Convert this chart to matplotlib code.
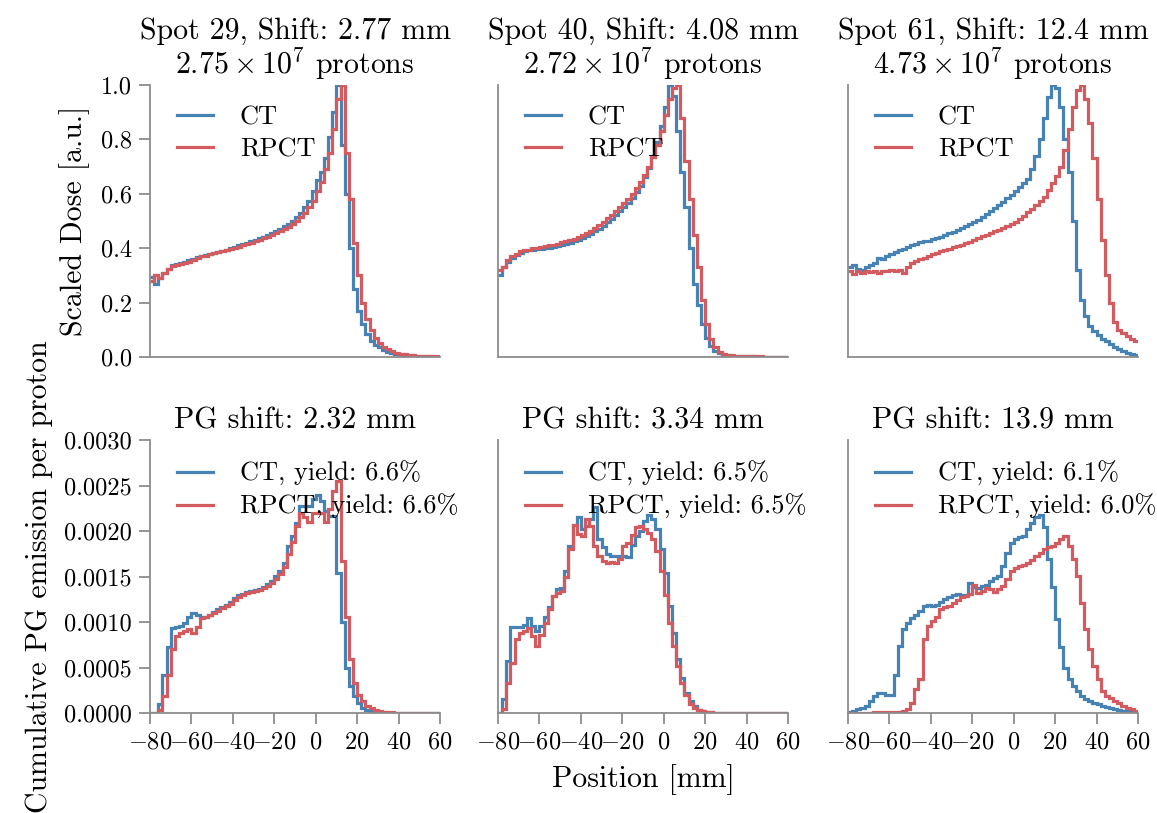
import numpy as np
import matplotlib
matplotlib.use("Agg")
import matplotlib.pyplot as plt

plt.rcParams['font.family'] = ['cmr10', 'DejaVu Serif']
plt.rcParams['mathtext.fontset'] = 'cm'
plt.rcParams['axes.formatter.use_mathtext'] = True
plt.rcParams['axes.unicode_minus'] = True

# bin edges (mm)
edges = np.arange(-80, 62, 2)

# ---- Dose (top row) ----
dose_titles = ["Spot 29, Shift: 2.77 mm\n$2.75 \\times 10^{7}$ protons",
               "Spot 40, Shift: 4.08 mm\n$2.72 \\times 10^{7}$ protons",
               "Spot 61, Shift: 12.4 mm\n$4.73 \\times 10^{7}$ protons"]
dose_ct_29 = [0.295, 0.27, 0.29, 0.307, 0.325, 0.337, 0.343, 0.347, 0.35, 0.356,
              0.362, 0.368, 0.372, 0.376, 0.38, 0.383, 0.386, 0.39, 0.395, 0.399,
              0.405, 0.41, 0.414, 0.42, 0.425, 0.43, 0.437, 0.443, 0.45, 0.457,
              0.465, 0.472, 0.48, 0.49, 0.5, 0.515, 0.53, 0.55, 0.575, 0.61,
              0.65, 0.68, 0.73, 0.81, 0.9, 1.0, 0.78, 0.6, 0.4, 0.25,
              0.17, 0.12, 0.085, 0.06, 0.045, 0.035, 0.025, 0.018, 0.014, 0.011,
              0.008, 0.006, 0.005, 0.004, 0.003, 0.003, 0.002, 0.002, 0.001, 0.001]
dose_rp_29 = [0.28, 0.3, 0.29, 0.31, 0.325, 0.335, 0.34, 0.343, 0.347, 0.35,
              0.358, 0.365, 0.37, 0.373, 0.378, 0.382, 0.385, 0.39, 0.393, 0.397,
              0.402, 0.406, 0.41, 0.415, 0.42, 0.425, 0.43, 0.436, 0.442, 0.449,
              0.455, 0.462, 0.47, 0.478, 0.488, 0.5, 0.513, 0.53, 0.55, 0.575,
              0.61, 0.645, 0.69, 0.75, 0.84, 0.95, 1.0, 0.75, 0.58, 0.42,
              0.3, 0.2, 0.14, 0.1, 0.07, 0.05, 0.038, 0.028, 0.021, 0.016,
              0.012, 0.01, 0.008, 0.006, 0.005, 0.004, 0.003, 0.003, 0.002, 0.002]
dose_ct_40 = [0.3, 0.33, 0.35, 0.365, 0.375, 0.382, 0.388, 0.392, 0.394, 0.396,
              0.398, 0.4, 0.402, 0.405, 0.408, 0.412, 0.416, 0.42, 0.425, 0.43,
              0.437, 0.445, 0.453, 0.462, 0.472, 0.483, 0.495, 0.508, 0.522, 0.537,
              0.552, 0.568, 0.585, 0.605, 0.63, 0.66, 0.695, 0.74, 0.79, 0.85,
              0.92, 1.0, 0.96, 0.83, 0.68, 0.55, 0.4, 0.27, 0.19, 0.12,
              0.07, 0.04, 0.022, 0.013, 0.008, 0.006, 0.004, 0.003, 0.003, 0.002,
              0.002, 0.002, 0.001, 0.001, 0.001, 0.001, 0.001, 0.001, 0.001, 0.001]
dose_rp_40 = [0.32, 0.33, 0.355, 0.37, 0.38, 0.388, 0.392, 0.395, 0.4, 0.402,
              0.405, 0.407, 0.41, 0.413, 0.417, 0.421, 0.425, 0.43, 0.435, 0.441,
              0.448, 0.456, 0.465, 0.475, 0.486, 0.497, 0.51, 0.522, 0.535, 0.55,
              0.565, 0.582, 0.6, 0.62, 0.645, 0.67, 0.7, 0.735, 0.78, 0.83,
              0.89, 0.95, 0.99, 1.0, 0.88, 0.72, 0.58, 0.45, 0.33, 0.21,
              0.12, 0.065, 0.035, 0.02, 0.012, 0.008, 0.006, 0.005, 0.004, 0.003,
              0.003, 0.002, 0.002, 0.002, 0.001, 0.001, 0.001, 0.001, 0.001, 0.001]
dose_ct_61 = [0.33, 0.34, 0.325, 0.32, 0.33, 0.34, 0.345, 0.365, 0.36, 0.37,
              0.38, 0.386, 0.392, 0.398, 0.405, 0.41, 0.415, 0.422, 0.425, 0.428,
              0.432, 0.437, 0.442, 0.448, 0.455, 0.46, 0.466, 0.473, 0.48, 0.488,
              0.496, 0.505, 0.515, 0.525, 0.535, 0.546, 0.557, 0.57, 0.583, 0.597,
              0.61, 0.625, 0.64, 0.655, 0.69, 0.74, 0.8, 0.88, 0.955, 1.0,
              0.99, 0.92, 0.8, 0.68, 0.5, 0.32, 0.21, 0.15, 0.115, 0.095,
              0.08, 0.068, 0.058, 0.047, 0.038, 0.03, 0.022, 0.015, 0.01, 0.006]
dose_rp_61 = [0.315, 0.305, 0.315, 0.31, 0.315, 0.312, 0.318, 0.31, 0.315, 0.318,
              0.32, 0.318, 0.32, 0.31, 0.33, 0.345, 0.352, 0.36, 0.365, 0.372,
              0.378, 0.383, 0.388, 0.393, 0.398, 0.403, 0.408, 0.413, 0.418, 0.424,
              0.43, 0.437, 0.444, 0.45, 0.456, 0.462, 0.468, 0.475, 0.482, 0.49,
              0.498, 0.508, 0.52, 0.532, 0.545, 0.56, 0.575, 0.59, 0.615, 0.64,
              0.665, 0.7, 0.76, 0.84, 0.92, 0.98, 1.0, 0.95, 0.86, 0.73,
              0.58, 0.43, 0.3, 0.2, 0.13, 0.1, 0.088, 0.078, 0.068, 0.058]

# ---- PG emission (bottom row) ----
pg_titles = ["PG shift: 2.32 mm", "PG shift: 3.34 mm", "PG shift: 13.9 mm"]
pg_labels_ct = ["CT, yield: 6.6%", "CT, yield: 6.5%", "CT, yield: 6.1%"]
pg_labels_rp = ["RPCT, yield: 6.6%", "RPCT, yield: 6.5%", "RPCT, yield: 6.0%"]
pg_ct_29 = [0, 0, 0.0001, 0.00042, 0.00073, 0.00093, 0.00094, 0.00096, 0.00099, 0.00105,
            0.0011, 0.00108, 0.00106, 0.00106, 0.00108, 0.00111, 0.00114, 0.00116, 0.00119, 0.00122,
            0.00126, 0.0013, 0.00131, 0.00133, 0.00134, 0.00135, 0.00136, 0.00139, 0.00142, 0.00145,
            0.00151, 0.00156, 0.00165, 0.00183, 0.00195, 0.00209, 0.00228, 0.00228, 0.00228, 0.00235,
            0.0024, 0.00233, 0.00222, 0.00216, 0.00216, 0.00154, 0.001, 0.0005, 0.0003, 0.00019,
            0.00011, 0.00005, 0.00003, 0.00002, 0.00001, 0.00001, 0.00001, 0, 0, 0,
            0, 0, 0, 0, 0, 0, 0, 0, 0, 0]
pg_rp_29 = [0, 0, 0.00003, 0.00019, 0.00042, 0.0007, 0.00085, 0.00088, 0.0009, 0.00092,
            0.00088, 0.00095, 0.00104, 0.00106, 0.00108, 0.0011, 0.00112, 0.00115, 0.00118, 0.0012,
            0.00124, 0.00128, 0.0013, 0.00132, 0.00133, 0.00134, 0.00135, 0.00137, 0.0014, 0.00143,
            0.00147, 0.00153, 0.0016, 0.00175, 0.00188, 0.00205, 0.0022, 0.00215, 0.0021, 0.0022,
            0.0022, 0.0022, 0.0021, 0.00224, 0.00244, 0.00255, 0.00167, 0.00105, 0.00059, 0.00033,
            0.0002, 0.00013, 0.00008, 0.00005, 0.00003, 0.00002, 0.00001, 0.00001, 0.00001, 0,
            0, 0, 0, 0, 0, 0, 0, 0, 0, 0]
pg_ct_40 = [0, 0.00015, 0.00057, 0.00094, 0.00094, 0.00094, 0.00097, 0.00104, 0.00096, 0.0009,
            0.00096, 0.00105, 0.00116, 0.00129, 0.00136, 0.00137, 0.00156, 0.00184, 0.00207, 0.00215,
            0.00202, 0.00205, 0.00213, 0.00226, 0.00191, 0.00182, 0.00175, 0.00173, 0.00173, 0.00173,
            0.00173, 0.00171, 0.00185, 0.00194, 0.002, 0.00211, 0.00218, 0.00213, 0.00202, 0.0018,
            0.00154, 0.00118, 0.00088, 0.00059, 0.00039, 0.00022, 0.00013, 0.00008, 0.00003, 0.00002,
            0.00001, 0.00001, 0, 0, 0, 0, 0, 0, 0, 0,
            0, 0, 0, 0, 0, 0, 0, 0, 0, 0]
pg_rp_40 = [0, 0.00004, 0.00033, 0.00055, 0.00081, 0.00088, 0.0009, 0.00093, 0.00085, 0.00074,
            0.00086, 0.00099, 0.00114, 0.00129, 0.00132, 0.00134, 0.0015, 0.0018, 0.00207, 0.00197,
            0.00195, 0.00213, 0.00205, 0.00184, 0.00173, 0.00167, 0.00165, 0.00166, 0.00165, 0.00169,
            0.00184, 0.00187, 0.00196, 0.00204, 0.00205, 0.00202, 0.00198, 0.00191, 0.00178, 0.00156,
            0.0013, 0.00099, 0.00074, 0.00052, 0.00033, 0.0002, 0.0001, 0.00005, 0.00003, 0.00002,
            0.00001, 0.00001, 0, 0, 0, 0, 0, 0, 0, 0,
            0, 0, 0, 0, 0, 0, 0, 0, 0, 0]
pg_ct_61 = [0.00001, 0.00002, 0.00004, 0.00006, 0.00008, 0.00013, 0.00019, 0.00022, 0.00022, 0.0002,
            0.0002, 0.00042, 0.00074, 0.00092, 0.00099, 0.00104, 0.00108, 0.00112, 0.00118, 0.00119,
            0.00118, 0.00119, 0.00122, 0.00125, 0.00127, 0.0013, 0.00131, 0.0013, 0.0013, 0.00143,
            0.00138, 0.00137, 0.0014, 0.00141, 0.00145, 0.00148, 0.00151, 0.00162, 0.00176, 0.00187,
            0.00191, 0.00193, 0.00195, 0.00202, 0.00209, 0.00215, 0.00218, 0.00204, 0.00169, 0.00138,
            0.00103, 0.00072, 0.0005, 0.00037, 0.0003, 0.00024, 0.00019, 0.00015, 0.00013, 0.00011,
            0.0001, 0.00008, 0.00007, 0.00005, 0.00004, 0.00003, 0.00002, 0.00002, 0.00001, 0.00001]
pg_rp_61 = [0, 0, 0, 0, 0, 0, 0.00001, 0.00001, 0.00001, 0.00001,
            0.00001, 0.00001, 0.00001, 0.00002, 0.00004, 0.00011, 0.00026, 0.00037, 0.00081, 0.00096,
            0.00101, 0.00105, 0.00114, 0.00116, 0.00118, 0.00121, 0.00124, 0.00127, 0.00129, 0.00131,
            0.00141, 0.00132, 0.00134, 0.00137, 0.00136, 0.00133, 0.00136, 0.0014, 0.00147, 0.00156,
            0.00159, 0.00161, 0.00163, 0.00165, 0.00168, 0.00173, 0.00176, 0.0018, 0.00182, 0.00184,
            0.00187, 0.00191, 0.00195, 0.00184, 0.00169, 0.00151, 0.00121, 0.00092, 0.0007, 0.00052,
            0.00037, 0.00024, 0.00019, 0.00016, 0.00013, 0.00011, 0.00008, 0.00005, 0.00004, 0.00002]

dose_ct = [dose_ct_29, dose_ct_40, dose_ct_61]
dose_rp = [dose_rp_29, dose_rp_40, dose_rp_61]
pg_ct = [pg_ct_29, pg_ct_40, pg_ct_61]
pg_rp = [pg_rp_29, pg_rp_40, pg_rp_61]

x_ticks = [-80, -60, -40, -20, 0, 20, 40, 60]
dose_yticks = [0.0, 0.2, 0.4, 0.6, 0.8, 1.0]
pg_yticks = [0.0, 0.0005, 0.0010, 0.0015, 0.0020, 0.0025, 0.0030]

BLUE = '#4682b4'
RED = '#d35a5e'
SPINE = '#8c8c8c'

FS_LABEL = 21.5
FS_TICK = 17.5
FS_LEG = 19
LW = 2.3

W, H = 1157, 813
fig = plt.figure(figsize=(W / 100, H / 100), dpi=100)

col_l = [150, 498, 848]
col_w = 290
row_top = [85, 440]
row_h = [272, 273]

def make_ax(c, r):
    return fig.add_axes([col_l[c] / W, 1 - (row_top[r] + row_h[r]) / H, col_w / W, row_h[r] / H])

def style(ax):
    for s in ['top', 'right']:
        ax.spines[s].set_visible(False)
    for s in ['left', 'bottom']:
        ax.spines[s].set_color(SPINE)
        ax.spines[s].set_linewidth(1.3)
    ax.tick_params(colors=SPINE, labelcolor='black', labelsize=FS_TICK, length=8, width=1.3,
                   direction='out', pad=5)
    ax.set_xlim(-80, 60)
    ax.set_xticks(x_ticks)

def add_legend(ax):
    ax.legend(loc='upper left', bbox_to_anchor=(0.055, 0.962), borderaxespad=0,
              frameon=False, fontsize=FS_LEG, handlelength=1.4,
              handletextpad=1.0, labelspacing=0.3)

for c in range(3):
    # top row
    ax = make_ax(c, 0)
    style(ax)
    ax.stairs(dose_ct[c], edges, baseline=None, color=BLUE, lw=LW, label='CT')
    ax.stairs(dose_rp[c], edges, baseline=None, color=RED, lw=LW, label='RPCT')
    ax.set_ylim(0, 1.0)
    ax.set_yticks(dose_yticks)
    ax.yaxis.set_major_formatter(matplotlib.ticker.FormatStrFormatter('%.1f'))
    ax.tick_params(axis='x', length=0, labelbottom=False)
    if c == 0:
        ax.set_ylabel('Scaled Dose [a.u.]', fontsize=FS_LABEL, labelpad=8)
    else:
        ax.tick_params(axis='y', length=0, labelleft=False)
    ax.set_title(dose_titles[c], fontsize=FS_LABEL, linespacing=1.0, pad=8)
    add_legend(ax)

    # bottom row
    ax = make_ax(c, 1)
    style(ax)
    ax.stairs(pg_ct[c], edges, baseline=None, color=BLUE, lw=LW, label=pg_labels_ct[c])
    ax.stairs(pg_rp[c], edges, baseline=None, color=RED, lw=LW, label=pg_labels_rp[c])
    ax.set_ylim(0, 0.003)
    ax.set_yticks(pg_yticks)
    ax.yaxis.set_major_formatter(matplotlib.ticker.FormatStrFormatter('%.4f'))
    if c == 0:
        ax.set_ylabel('Cumulative PG emission per proton', fontsize=FS_LABEL, labelpad=8)
    else:
        ax.tick_params(axis='y', length=0, labelleft=False)
    if c == 1:
        ax.set_xlabel('Position [mm]', fontsize=FS_LABEL, labelpad=8)
    ax.set_title(pg_titles[c], fontsize=FS_LABEL, pad=8)
    add_legend(ax)

fig.savefig('out.png', dpi=100)
